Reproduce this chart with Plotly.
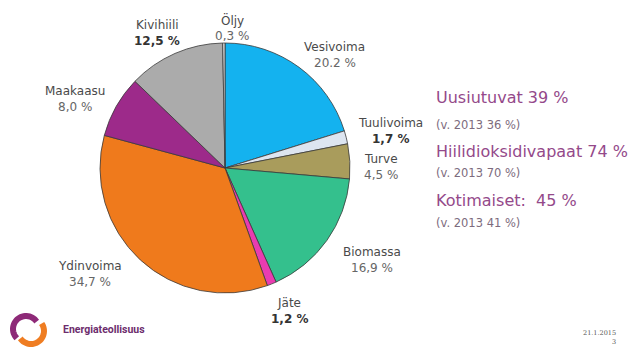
import numpy as np
import plotly.graph_objects as go

# Energy sources of electricity supply, share of total (%)
sources = ["Vesivoima", "Tuulivoima", "Turve", "Biomassa", "Jäte",
           "Ydinvoima", "Maakaasu", "Kivihiili", "Öljy"]
shares = [20.2, 1.7, 4.5, 16.9, 1.2, 34.7, 8.0, 12.5, 0.3]
colors = ["#14b2ef", "#dde5f0", "#a99c5c", "#34c08d", "#e93cb0",
          "#ef7a1c", "#9d2a8a", "#ababab", "#d9d9d9"]

# Summary figures shown beside the pie
summary_titles = ["Uusiutuvat 39 %", "Hiilidioksidivapaat 74 %", "Kotimaiset:  45 %"]
summary_prev = ["(v. 2013 36 %)", "(v. 2013 70 %)", "(v. 2013 41 %)"]

W, H = 635, 353


def px(x):
    return x / W


def py(y):
    return 1 - y / H


fig = go.Figure()
fig.add_trace(go.Pie(
    labels=sources, values=shares, sort=False, direction="clockwise",
    rotation=0, textinfo="none", hoverinfo="label+percent",
    marker=dict(colors=colors, line=dict(color="#3a3a3a", width=0.8)),
    domain=dict(x=[px(98), px(352)], y=[py(293), py(43)]),
    showlegend=False,
))

# label placement (pixel centres of name line) for each slice
label_pos = {
    "Vesivoima": (335, 47), "Tuulivoima": (391, 123), "Turve": (381, 159),
    "Biomassa": (372, 252), "Jäte": (289, 303), "Ydinvoima": (90, 266),
    "Maakaasu": (75, 91), "Kivihiili": (157, 25), "Öljy": (232, 20),
}
dark_values = {"Kivihiili", "Tuulivoima", "Jäte"}
dot_decimal = {"Vesivoima"}

annotations = []
for name, val in zip(sources, shares):
    x, y = label_pos[name]
    num = f"{val:.1f}"
    if name not in dot_decimal:
        num = num.replace(".", ",")
    val_txt = f"{num} %"
    if name in dark_values:
        val_txt = f"<b>{val_txt}</b>"
        vcol = "#333333"
    else:
        vcol = "#666666"
    annotations.append(dict(
        x=px(x), y=py(y), xref="paper", yref="paper", showarrow=False,
        text=name, font=dict(family="DejaVu Sans", size=12, color="#4a4a4a"),
        xanchor="center", yanchor="middle"))
    annotations.append(dict(
        x=px(x), y=py(y + 16), xref="paper", yref="paper", showarrow=False,
        text=val_txt, font=dict(family="DejaVu Sans", size=12, color=vcol),
        xanchor="center", yanchor="middle"))

# summary block on the right
title_y = [97, 151, 200]
prev_y = [125, 173, 223]
for t, p, ty, pyv in zip(summary_titles, summary_prev, title_y, prev_y):
    annotations.append(dict(
        x=px(434), y=py(ty), xref="paper", yref="paper", showarrow=False,
        text=t, font=dict(family="DejaVu Sans", size=16, color="#94498a"),
        xanchor="left", yanchor="middle"))
    annotations.append(dict(
        x=px(434), y=py(pyv), xref="paper", yref="paper", showarrow=False,
        text=p, font=dict(family="DejaVu Sans", size=11.5, color="#7d6b7d"),
        xanchor="left", yanchor="middle"))

# footer: company name, date and page number
annotations.append(dict(
    x=px(61), y=py(329), xref="paper", yref="paper", showarrow=False,
    text="<b>Energiateollisuus</b>",
    font=dict(family="Roboto", size=10.5, color="#6d2d6d"),
    xanchor="left", yanchor="middle"))
annotations.append(dict(
    x=px(618), y=py(333), xref="paper", yref="paper", showarrow=False,
    text="21.1.2015", font=dict(family="DejaVu Serif", size=6.5, color="#555555"),
    xanchor="right", yanchor="middle"))
annotations.append(dict(
    x=px(618), y=py(342), xref="paper", yref="paper", showarrow=False,
    text="3", font=dict(family="DejaVu Serif", size=6.5, color="#555555"),
    xanchor="right", yanchor="middle"))


def arc_path(cx, cy, r, a0, a1, n=30):
    ang = np.radians(np.linspace(a0, a1, n))
    xs = cx + r * np.cos(ang)
    ys = cy - r * np.sin(ang)
    pts = [f"{px(x):.5f},{py(y):.5f}" for x, y in zip(xs, ys)]
    return "M " + " L ".join(pts)


# company logo: two interlocking swooshes
shapes = [
    dict(type="path", xref="paper", yref="paper",
         path=arc_path(26, 329, 13, 35, 225),
         line=dict(color="#8e2a78", width=6)),
    dict(type="path", xref="paper", yref="paper",
         path=arc_path(31, 331, 13, 215, 395),
         line=dict(color="#ef7d22", width=6)),
]

fig.update_layout(
    width=W, height=H, margin=dict(l=0, r=0, t=0, b=0),
    paper_bgcolor="white", plot_bgcolor="white",
    annotations=annotations, shapes=shapes,
)

fig.write_html("out.html")
